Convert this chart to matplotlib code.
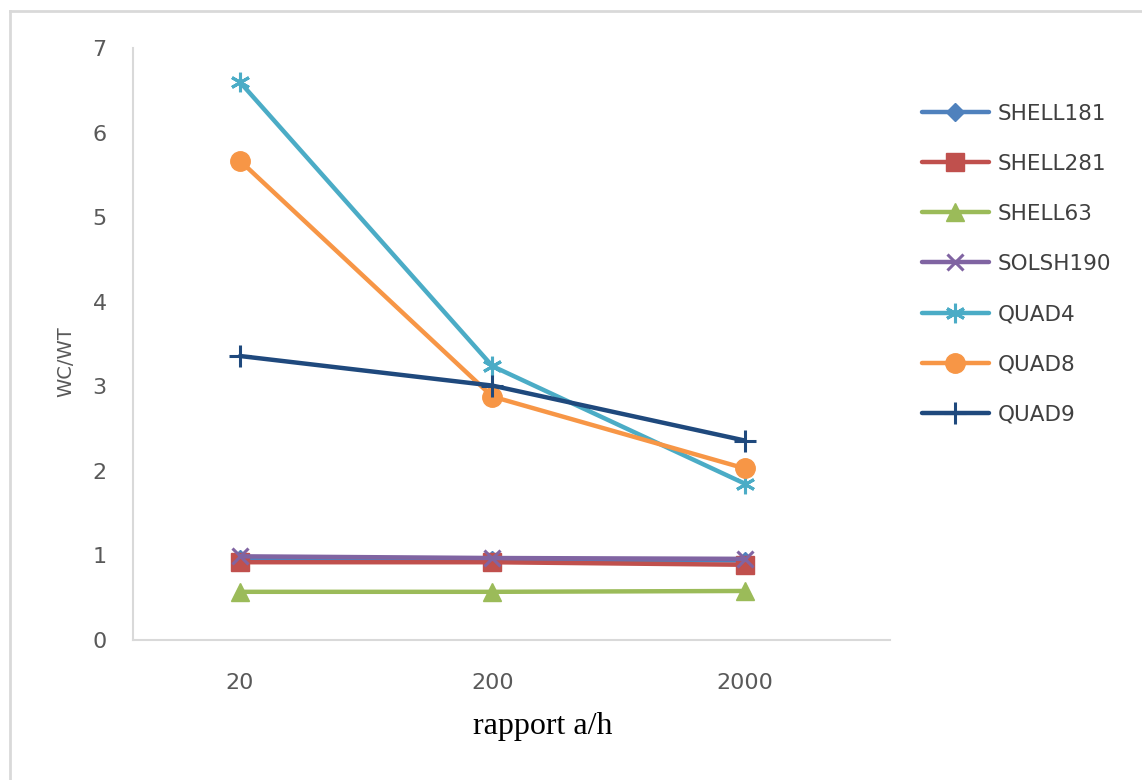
import matplotlib.pyplot as plt
from matplotlib.lines import Line2D

ratios = ["20", "200", "2000"]
series_names = ["SHELL181", "SHELL281", "SHELL63", "SOLSH190", "QUAD4", "QUAD8", "QUAD9"]

shell181 = [0.96, 0.95, 0.94]
shell281 = [0.92, 0.92, 0.89]
shell63 = [0.57, 0.57, 0.58]
solsh190 = [0.99, 0.97, 0.96]
quad4 = [6.60, 3.24, 1.85]
quad8 = [5.67, 2.88, 2.03]
quad9 = [3.36, 3.01, 2.36]

values = [shell181, shell281, shell63, solsh190, quad4, quad8, quad9]
colors = ["#4F81BD", "#C0504D", "#9BBB59", "#8064A2", "#4BACC6", "#F79646", "#1F497D"]
markers = ["D", "s", "^", "x", (6, 2, 0), "o", "+"]
msizes = [9, 13, 13, 12, 14, 14, 16]

fig = plt.figure(figsize=(11.42, 7.8), dpi=100)
ax = fig.add_axes([0.1165, 0.1795, 0.6625, 0.7585])

x = list(range(len(ratios)))
handles = []
for name, vals, c, m, ms in zip(series_names, values, colors, markers, msizes):
    filled = m not in ("x", "+") and not isinstance(m, tuple)
    line, = ax.plot(x, vals, color=c, linewidth=3.2, marker=m, markersize=ms,
                    markeredgewidth=2.2 if not filled else 1, markerfacecolor=c,
                    markeredgecolor=c, label=name, solid_capstyle="round")
    handles.append(line)

ax.set_xlim(-0.424, 2.574)
ax.set_ylim(0, 7)
ax.set_xticks(x)
ax.set_xticklabels(ratios)
ax.set_yticks(range(8))
ax.tick_params(length=0, labelsize=16, labelcolor="#595959")
ax.tick_params(axis="x", pad=24)
ax.tick_params(axis="y", pad=19)

for side in ["top", "right"]:
    ax.spines[side].set_visible(False)
for side in ["left", "bottom"]:
    ax.spines[side].set_color("#D9D9D9")
    ax.spines[side].set_linewidth(1.5)

ax.set_ylabel("WC/WT", fontsize=14, color="#595959")
ax.yaxis.set_label_coords(-0.076, 0.47)
ax.set_xlabel("rapport a/h", fontsize=23, family="Liberation Serif", color="black")
ax.xaxis.set_label_coords(0.5416, -0.122)

fig.legend(handles=handles, loc="upper left", bbox_to_anchor=(0.7905, 0.892),
           frameon=False, fontsize=15.5, labelspacing=1.4, handlelength=3.1,
           handletextpad=0.4, labelcolor="#404040")

# chart area border (top and left edges)
fig.add_artist(Line2D([10 / 1142, 1.0], [1 - 11 / 780, 1 - 11 / 780],
                      transform=fig.transFigure, color="#D9D9D9", linewidth=2))
fig.add_artist(Line2D([10 / 1142, 10 / 1142], [0.0, 1 - 11 / 780],
                      transform=fig.transFigure, color="#D9D9D9", linewidth=2))

fig.savefig("out.png", dpi=100)
